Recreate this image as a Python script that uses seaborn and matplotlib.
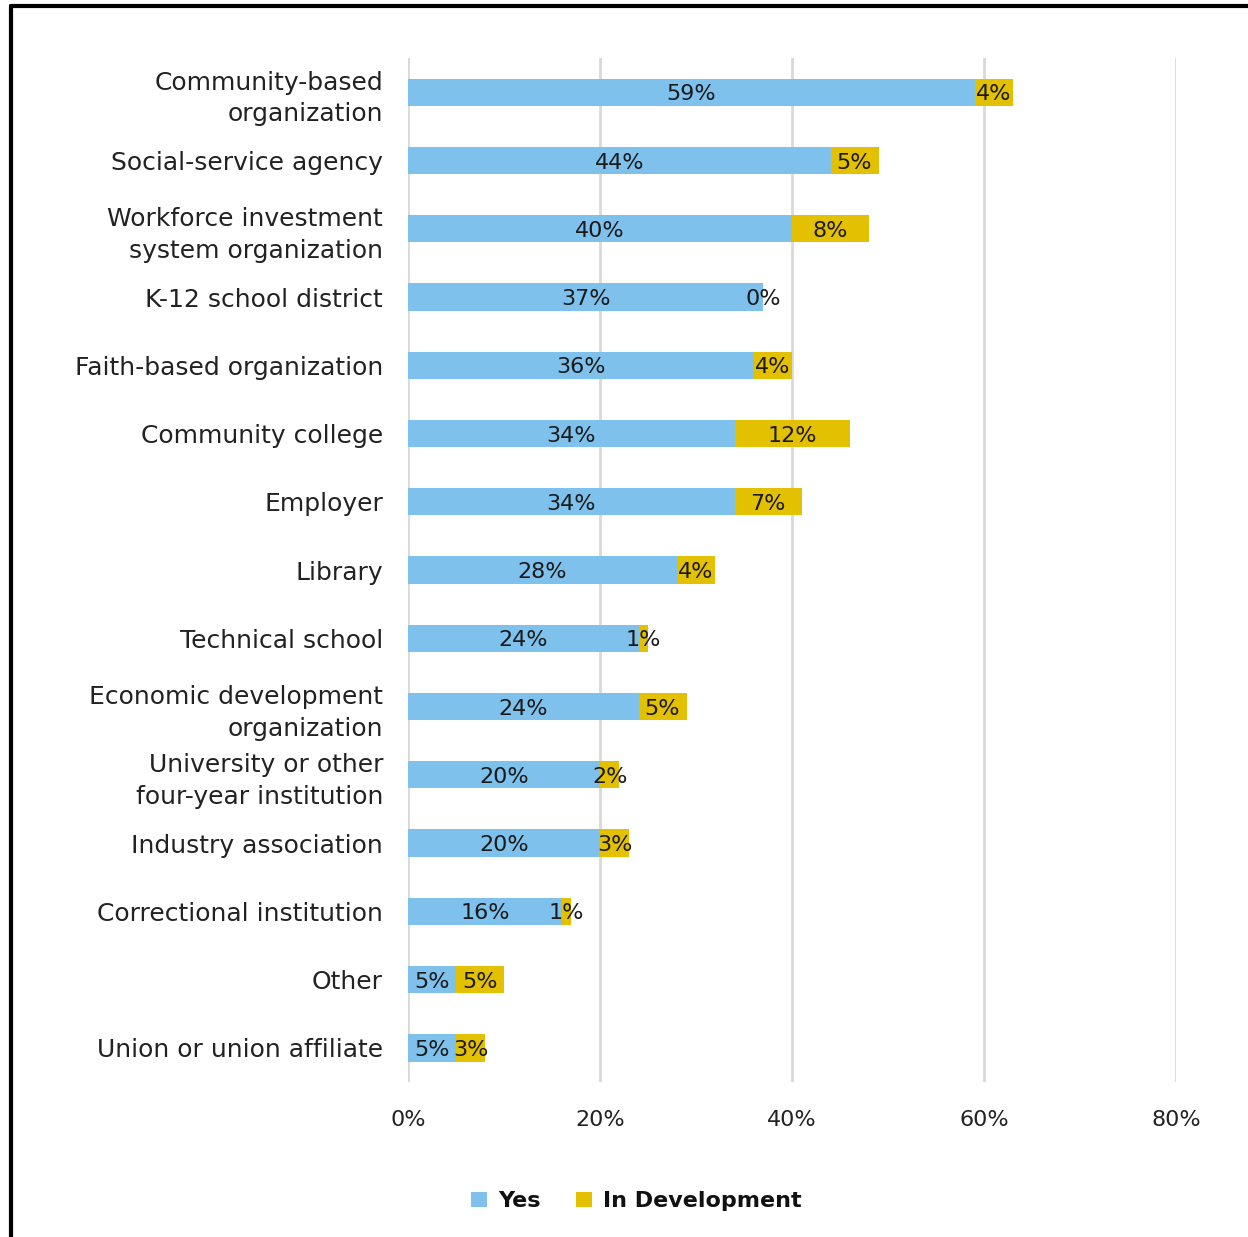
import matplotlib
matplotlib.use("Agg")
import matplotlib.pyplot as plt
import seaborn as sns
import pandas as pd
from matplotlib.patches import Patch
from matplotlib.lines import Line2D

categories = ["Community-based\norganization", "Social-service agency",
              "Workforce investment\nsystem organization", "K-12 school district",
              "Faith-based organization", "Community college", "Employer", "Library",
              "Technical school", "Economic development\norganization",
              "University or other\nfour-year institution", "Industry association",
              "Correctional institution", "Other", "Union or union affiliate"]
yes = [59, 44, 40, 37, 36, 34, 34, 28, 24, 24, 20, 20, 16, 5, 5]
in_dev = [4, 5, 8, 0, 4, 12, 7, 4, 1, 5, 2, 3, 1, 5, 3]
xticks = [0, 20, 40, 60, 80]

BLUE = "#7DC1EC"
GOLD = "#E3C000"

sns.set_theme(style="white")
plt.rcParams['font.family'] = ['DejaVu Sans']

df = pd.DataFrame({"cat": categories, "yes": yes, "dev": in_dev})
df["total"] = df["yes"] + df["dev"]

fig = plt.figure(figsize=(12.48, 12.37), dpi=100)
ax = fig.add_axes([0.327, 0.1253, 0.6154, 0.8277])

sns.barplot(data=df, y="cat", x="total", color=GOLD, width=0.4, ax=ax,
            saturation=1, orient="h", zorder=2)
sns.barplot(data=df, y="cat", x="yes", color=BLUE, width=0.4, ax=ax,
            saturation=1, orient="h", zorder=3)
for p in ax.patches:
    p.set_edgecolor("none")
    p.set_linewidth(0)

for i, (y_, d_) in enumerate(zip(yes, in_dev)):
    ax.text(y_ / 2, i + 0.03, f"{y_}%", ha="center", va="center",
            fontsize=16, color="#1a1a1a", zorder=5)
    ax.text(y_ + d_ / 2, i + 0.03, f"{d_}%", ha="center", va="center",
            fontsize=16, color="#1a1a1a", zorder=5)

ax.set_xlim(0, 80)
ax.set_ylim(14.5, -0.5)
ax.set_xticks(xticks)
ax.set_xticklabels([f"{t}%" for t in xticks], fontsize=16, color="#222222")
ax.tick_params(axis="x", length=0, pad=20)
ax.tick_params(axis="y", length=0, pad=18)
ax.set_yticklabels(categories, fontsize=18, color="#222222", linespacing=1.4)
ax.set_xlabel("")
ax.set_ylabel("")
for s in ax.spines.values():
    s.set_visible(False)
for t in xticks:
    ax.axvline(t, color="#D9D9D9", lw=2, zorder=0)

handles = [Patch(facecolor=BLUE, edgecolor="none", label="Yes"),
           Patch(facecolor=GOLD, edgecolor="none", label="In Development")]
fig.legend(handles=handles, loc="center", bbox_to_anchor=(0.51, 0.029),
           ncol=2, frameon=False, handlelength=0.7, handleheight=0.7,
           handletextpad=0.5, columnspacing=1.6, labelcolor="#111111",
           prop={"family": "DejaVu Sans", "weight": "bold", "size": 16})

# frame lines (top and left)
fig.add_artist(Line2D([0.0085, 1.0], [0.9955, 0.9955], color="black", lw=3,
                      transform=fig.transFigure))
fig.add_artist(Line2D([0.0085, 0.0085], [0.0, 0.9955], color="black", lw=3,
                      transform=fig.transFigure))

fig.savefig("out.png", dpi=100)
